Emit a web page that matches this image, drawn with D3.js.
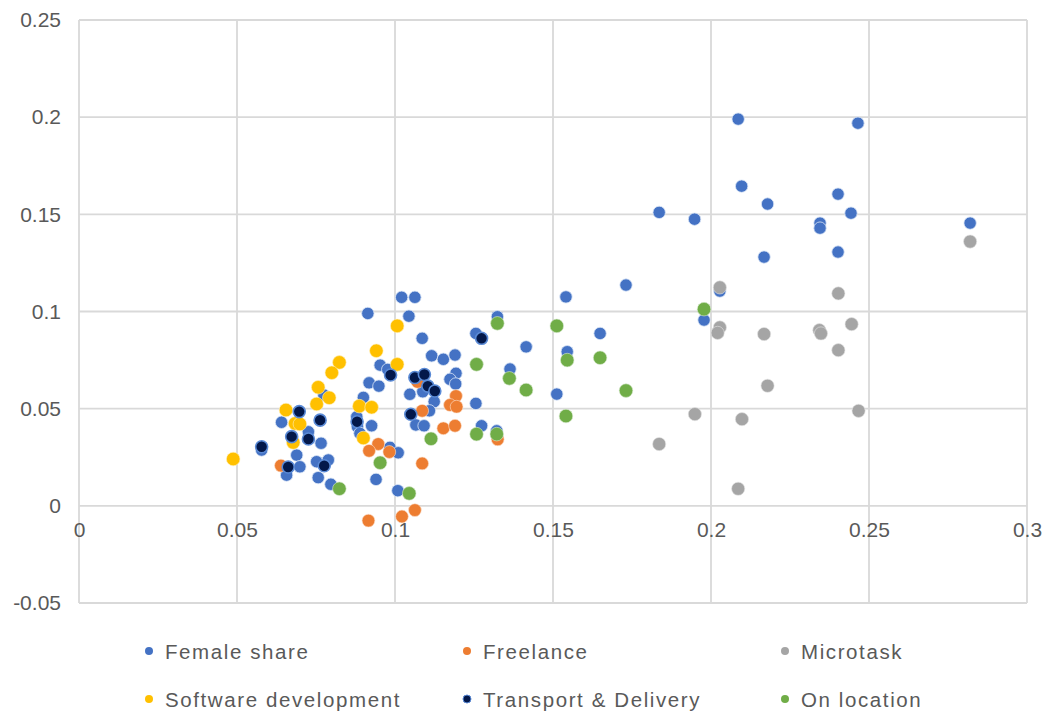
<!DOCTYPE html>
<html>
<head>
<meta charset="utf-8">
<script src="https://cdn.jsdelivr.net/npm/d3@7"></script>
<style>
  html, body { margin: 0; padding: 0; background: #fff; }
  svg { display: block; font-family: "Liberation Sans", Arial, sans-serif; }
</style>
</head>
<body>
<svg id="chart" width="1048" height="713"></svg>
<script>
// ---- Data (x, y) ----
const femaleShare = [
  [0.2086,0.199],[0.2465,0.1969],[0.2097,0.1645],[0.2402,0.1604],[0.2179,0.1553],
  [0.1836,0.151],[0.1948,0.1475],[0.2443,0.1506],[0.2345,0.1455],[0.2345,0.1429],
  [0.282,0.1455],[0.2402,0.1306],[0.2168,0.128],[0.2028,0.1105],[0.1731,0.1136],
  [0.1541,0.1075],[0.1978,0.0956],[0.1324,0.0973],[0.1649,0.0887],[0.1415,0.0818],
  [0.1545,0.0793],[0.1364,0.0704],[0.1512,0.0575],[0.1021,0.1073],[0.1063,0.1073],
  [0.0914,0.099],[0.1044,0.0976],[0.1086,0.0862],[0.1256,0.0887],[0.1116,0.0772],
  [0.1153,0.0754],[0.119,0.0776],[0.0953,0.0724],[0.0977,0.0702],[0.1193,0.0682],
  [0.1174,0.0651],[0.1192,0.0627],[0.1088,0.0587],[0.1047,0.0574],[0.0918,0.0633],
  [0.0949,0.0616],[0.09,0.0558],[0.1124,0.0536],[0.1256,0.0527],[0.1109,0.0489],
  [0.0641,0.043],[0.0926,0.0412],[0.0881,0.0407],[0.1066,0.0416],[0.1092,0.0412],
  [0.1274,0.0412],[0.1322,0.0386],[0.0889,0.0373],[0.0726,0.0381],[0.0766,0.0322],
  [0.0578,0.0287],[0.0689,0.0261],[0.0752,0.0227],[0.0789,0.0236],[0.0699,0.0201],
  [0.0657,0.0158],[0.0757,0.0145],[0.0797,0.0111],[0.0984,0.0301],[0.101,0.0273],
  [0.094,0.0136],[0.1009,0.0078],[0.0775,0.057],[0.0879,0.0458]
];
const freelance = [
  [0.1071,0.0638],[0.1193,0.0565],[0.1174,0.0519],[0.1195,0.051],[0.1086,0.0489],
  [0.1153,0.0399],[0.119,0.0412],[0.1325,0.0342],[0.0639,0.0207],[0.0947,0.0318],
  [0.0918,0.0283],[0.0982,0.0277],[0.1086,0.0218],[0.1063,-0.0022],[0.1022,-0.0055],
  [0.0916,-0.0076]
];
const microtask = [
  [0.282,0.136],[0.2028,0.1124],[0.2403,0.1093],[0.2028,0.0918],[0.2021,0.089],
  [0.2168,0.0884],[0.2343,0.0904],[0.2348,0.0887],[0.2445,0.0935],[0.2403,0.0801],
  [0.2179,0.0618],[0.1949,0.0472],[0.2467,0.0489],[0.2098,0.0446],[0.1836,0.0318],
  [0.2086,0.0088]
];
const softwareDev = [
  [0.0488,0.0241],[0.1007,0.0926],[0.0941,0.0798],[0.0824,0.0738],[0.1007,0.0728],
  [0.08,0.0685],[0.0757,0.061],[0.0792,0.0556],[0.0752,0.0524],[0.0887,0.0513],
  [0.0926,0.0507],[0.0655,0.0493],[0.0684,0.0424],[0.0699,0.0421],[0.09,0.0349],
  [0.0678,0.0326]
];
const transport = [
  [0.1274,0.0862],[0.0986,0.0673],[0.1063,0.066],[0.1093,0.0676],[0.1104,0.0616],
  [0.1126,0.0591],[0.105,0.0471],[0.0697,0.0485],[0.0763,0.0441],[0.088,0.0433],
  [0.0673,0.0356],[0.0726,0.0344],[0.0578,0.0304],[0.0776,0.0206],[0.0662,0.02]
];
const onLocation = [
  [0.1324,0.0939],[0.1512,0.0926],[0.1978,0.1012],[0.1258,0.0728],[0.1545,0.075],
  [0.1649,0.0762],[0.1362,0.0656],[0.1415,0.0596],[0.1731,0.0593],[0.1541,0.0462],
  [0.1258,0.0369],[0.1322,0.0369],[0.1114,0.0345],[0.0953,0.0222],[0.0824,0.0088],
  [0.1045,0.0064]
];
const seriesNames = ["Female share","Freelance","Microtask","Software development","Transport & Delivery","On location"];
const seriesData = [femaleShare, freelance, microtask, softwareDev, transport, onLocation];
const xTicks = [0,0.05,0.1,0.15,0.2,0.25,0.3];
const xTickLabels = ["0","0.05","0.1","0.15","0.2","0.25","0.3"];
const yTicks = [-0.05,0,0.05,0.1,0.15,0.2,0.25];
const yTickLabels = ["-0.05","0","0.05","0.1","0.15","0.2","0.25"];

// ---- Styles ----
const styles = [
  {fill:"#4472C4", stroke:"#dbe6f6", sw:0.8, r:6.2},
  {fill:"#ED7D31", stroke:"#fbe0cf", sw:0.6, r:6.4},
  {fill:"#A5A5A5", stroke:"#e4e4e4", sw:0.6, r:6.6},
  {fill:"#FFC000", stroke:"#fff0bf", sw:0.6, r:6.8},
  {fill:"#03184a", stroke:"#5a8ad6", sw:1.6, r:6.0},
  {fill:"#70AD47", stroke:"#d9ead0", sw:0.6, r:6.8}
];

const svg = d3.select("#chart");
const x = d3.scaleLinear().domain([0,0.3]).range([79,1027]);
const y = d3.scaleLinear().domain([-0.05,0.25]).range([603,20]);

const grid = svg.append("g");
grid.selectAll("line.v").data(xTicks).join("line")
  .attr("x1", d => x(d)).attr("x2", d => x(d))
  .attr("y1", y(0.25)).attr("y2", y(-0.05))
  .attr("stroke", "#d9d9d9").attr("stroke-width", 1.8);
grid.selectAll("line.h").data(yTicks).join("line")
  .attr("y1", d => y(d)).attr("y2", d => y(d))
  .attr("x1", x(0)).attr("x2", x(0.3))
  .attr("stroke", "#d9d9d9").attr("stroke-width", 1.8);

// y tick labels
const yAxis = d3.axisLeft(y).tickValues(yTicks)
  .tickFormat((d,i) => yTickLabels[i]).tickSize(0).tickPadding(18);
const gy = svg.append("g").attr("transform", `translate(${x(0)},0)`).call(yAxis);
gy.select(".domain").remove();
gy.selectAll("text").attr("fill","#595959").style("font-size","21px")
  .style("font-family","'Liberation Sans', Arial, sans-serif");

// x tick labels, crossing at y = 0
const xAxis = d3.axisBottom(x).tickValues(xTicks)
  .tickFormat((d,i) => xTickLabels[i]).tickSize(0).tickPadding(16);
const gx = svg.append("g").attr("transform", `translate(0,${y(0)})`).call(xAxis);
gx.select(".domain").remove();
gx.selectAll("text").attr("fill","#595959").style("font-size","21px")
  .style("font-family","'Liberation Sans', Arial, sans-serif");

// points
seriesData.forEach((data, i) => {
  const st = styles[i];
  svg.append("g").selectAll("circle").data(data).join("circle")
    .attr("cx", d => x(d[0])).attr("cy", d => y(d[1]))
    .attr("r", st.r).attr("fill", st.fill)
    .attr("stroke", st.stroke).attr("stroke-width", st.sw);
});

// legend
const legendX = [149, 467, 785];
const legendY = [651, 699];
const lg = svg.append("g");
seriesNames.forEach((name, i) => {
  const cx = legendX[i % 3], cy = legendY[Math.floor(i / 3)];
  const st = styles[i];
  lg.append("circle").attr("cx", cx).attr("cy", cy).attr("r", 4)
    .attr("fill", st.fill).attr("stroke", i === 4 ? st.stroke : "none").attr("stroke-width", 1);
  lg.append("text").attr("x", cx + 16).attr("y", cy + 7.5)
    .attr("fill", "#595959").style("font-size", "20.5px").style("letter-spacing", "1.6px")
    .text(name);
});
</script>
</body>
</html>
